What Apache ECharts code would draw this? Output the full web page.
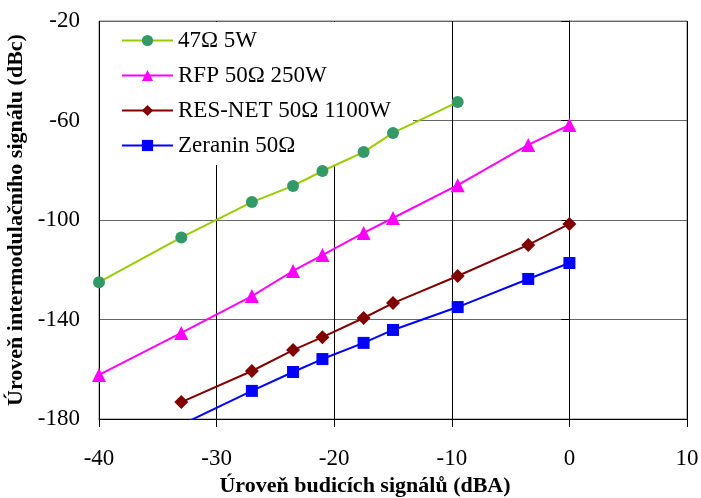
<!DOCTYPE html>
<html><head><meta charset="utf-8">
<script src="https://cdn.jsdelivr.net/npm/echarts@6/dist/echarts.min.js"></script>
<style>html,body{margin:0;padding:0;background:#fff}#c{width:701px;height:498px}</style>
</head><body><div id="c"></div>
<script>
const seriesNames = ['47Ω 5W', 'RFP 50Ω 250W', 'RES-NET 50Ω 1100W', 'Zeranin 50Ω'];
const green = [[-40,-125],[-33,-107],[-27,-92.8],[-23.5,-86.3],[-21,-80.3],[-17.5,-72.7],[-15,-65],[-9.5,-52.6]];
const magenta = [[-40,-162.3],[-33,-145.4],[-27,-130.6],[-23.5,-120.5],[-21,-114.1],[-17.5,-105.2],[-15,-99.2],[-9.5,-86],[-3.5,-69.8],[0,-61.8]];
const darkred = [[-33,-173.2],[-27,-160.7],[-23.5,-152.3],[-21,-147.1],[-17.5,-139.4],[-15,-133.4],[-9.5,-122.5],[-3.5,-110],[0,-101.6]];
const blue = [[-33,-182.3],[-27,-168.7],[-23.5,-161.1],[-21,-155.9],[-17.5,-149.4],[-15,-144.2],[-9.5,-135],[-3.5,-123.7],[0,-117.3]];
const xTitle = 'Úroveň budicích signálů (dBA)';
const yTitle = 'Úroveň intermodulačního signálu (dBc)';

const font = 'Liberation Serif';
const chart = echarts.init(document.getElementById('c'));
function mk(name, data, lineColor, symColor, symbol, size) {
  return {
    name, type: 'line', data, symbol, symbolSize: size, clip: true, z: 3,
    lineStyle: { color: lineColor, width: 2 },
    itemStyle: { color: symColor },
    emphasis: { disabled: true }
  };
}
chart.setOption({
  animation: false,
  backgroundColor: '#fff',
  grid: { left: 99, right: 14, top: 21, bottom: 79, show: true, borderColor: '#808080', borderWidth: 1,
          containLabel: false, outerBoundsMode: 'none' },
  legend: {
    orient: 'vertical', left: 100, top: 22, z: 1,
    padding: [7, 22, 8, 21],
    backgroundColor: '#fff',
    itemWidth: 51, itemHeight: 14, itemGap: 12,
    textStyle: { fontFamily: font, fontSize: 23, color: '#000' },
    data: seriesNames
  },
  xAxis: {
    type: 'value', min: -40, max: 10, interval: 10,
    name: xTitle, nameLocation: 'middle', nameGap: 55,
    nameTextStyle: { fontFamily: font, fontSize: 22, fontWeight: 'bold', color: '#000', padding: [0, 56, 0, 0] },
    axisLine: { show: true, lineStyle: { color: '#000' } },
    axisTick: { show: true, length: 8, inside: false, lineStyle: { color: '#000' } },
    axisLabel: { fontFamily: font, fontSize: 23, color: '#000', margin: 28 },
    splitLine: { show: true, lineStyle: { color: '#000', width: 1 } }
  },
  yAxis: {
    type: 'value', min: -180, max: -20, interval: 40,
    name: yTitle, nameLocation: 'middle', nameGap: 68,
    nameTextStyle: { fontFamily: font, fontSize: 22, fontWeight: 'bold', color: '#000' },
    axisLine: { show: true, lineStyle: { color: '#000' } },
    axisTick: { show: true, length: 8, inside: false, lineStyle: { color: '#000' } },
    axisLabel: { fontFamily: font, fontSize: 23, color: '#000', margin: 19 },
    splitLine: { show: true, lineStyle: { color: '#666', width: 1 } }
  },
  series: [
    mk(seriesNames[0], green, '#99CC00', '#339966', 'circle', 12),
    mk(seriesNames[1], magenta, '#FF00FF', '#FF00FF', 'triangle', 14),
    mk(seriesNames[2], darkred, '#800000', '#800000', 'diamond', 14),
    mk(seriesNames[3], blue, '#0000FF', '#0000FF', 'rect', 12)
  ]
});
</script></body></html>
